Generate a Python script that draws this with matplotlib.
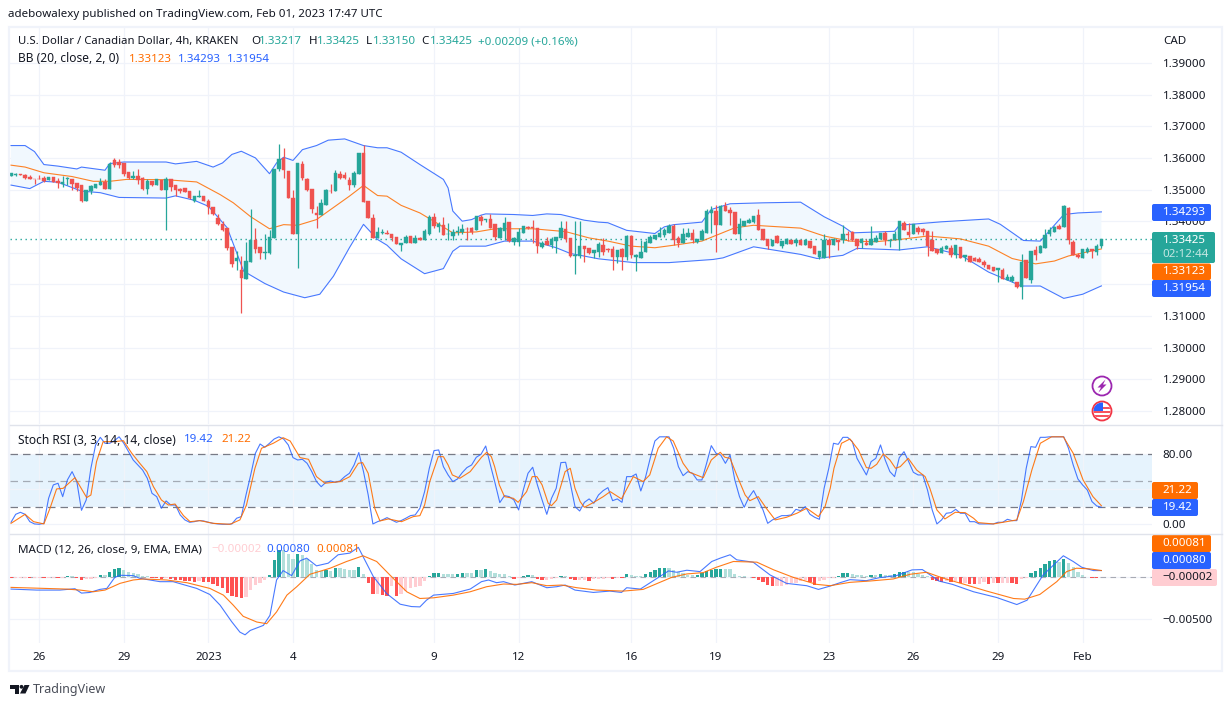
import numpy as np
import matplotlib
matplotlib.use("Agg")
import matplotlib.pyplot as plt
from matplotlib.patches import Rectangle, FancyBboxPatch, Circle, Polygon

plt.rcParams['font.family'] = ['Noto Sans', 'DejaVu Sans']

# candles, one per 4h bar
opens = [
    1.3542,1.3547,1.3548,1.3546,1.3541,1.3534,1.3534,1.3538,1.3529,1.3540,
    1.3526,1.3518,1.3533,1.3534,1.3522,1.3513,1.3465,1.3494,1.3506,1.3514,
    1.3525,1.3503,1.3592,1.3588,1.3584,1.3554,1.3537,1.3544,1.3536,1.3503,
    1.3526,1.3513,1.3530,1.3500,1.3534,1.3513,1.3503,1.3504,1.3494,1.3464,
    1.3476,1.3479,1.3465,1.3446,1.3410,1.3391,1.3379,1.3318,1.3274,1.3247,
    1.3217,1.3271,1.3339,1.3317,1.3298,1.3299,1.3346,1.3565,1.3599,1.3560,
    1.3474,1.3358,1.3582,1.3532,1.3503,1.3426,1.3418,1.3452,1.3496,1.3494,
    1.3549,1.3545,1.3529,1.3513,1.3549,1.3617,1.3463,1.3411,1.3346,1.3362,
    1.3364,1.3361,1.3351,1.3324,1.3330,1.3352,1.3330,1.3348,1.3342,1.3361,
    1.3412,1.3382,1.3387,1.3359,1.3353,1.3366,1.3365,1.3376,1.3379,1.3371,
    1.3413,1.3403,1.3407,1.3390,1.3347,1.3368,1.3397,1.3335,1.3335,1.3363,
    1.3380,1.3380,1.3379,1.3319,1.3337,1.3324,1.3336,1.3347,1.3374,1.3347,
    1.3290,1.3290,1.3321,1.3314,1.3298,1.3304,1.3326,1.3311,1.3313,1.3287,
    1.3311,1.3287,1.3353,1.3287,1.3282,1.3302,1.3330,1.3343,1.3351,1.3356,
    1.3363,1.3384,1.3347,1.3330,1.3351,1.3363,1.3335,1.3342,1.3363,1.3426,
    1.3432,1.3387,1.3447,1.3435,1.3428,1.3361,1.3384,1.3395,1.3397,1.3418,
    1.3374,1.3344,1.3323,1.3353,1.3323,1.3327,1.3339,1.3332,1.3342,1.3326,
    1.3336,1.3321,1.3287,1.3284,1.3339,1.3326,1.3340,1.3339,1.3358,1.3365,
    1.3344,1.3332,1.3332,1.3324,1.3335,1.3345,1.3363,1.3336,1.3339,1.3339,
    1.3395,1.3365,1.3358,1.3379,1.3374,1.3368,1.3339,1.3311,1.3298,1.3312,
    1.3314,1.3294,1.3318,1.3287,1.3291,1.3283,1.3279,1.3272,1.3261,1.3254,
    1.3245,1.3245,1.3215,1.3212,1.3207,1.3193,1.3276,1.3213,1.3309,1.3298,
    1.3316,1.3360,1.3366,1.3384,1.3381,1.3442,1.3335,1.3294,1.3285,1.3303,
    1.3311,1.3302,1.33217]
closes = [
    1.3551,1.3549,1.3546,1.3537,1.3533,1.3533,1.3533,1.3526,1.3541,1.3525,
    1.3521,1.3525,1.3535,1.3519,1.3506,1.3465,1.3497,1.3511,1.3519,1.3525,
    1.3503,1.3582,1.3578,1.3578,1.3550,1.3537,1.3544,1.3529,1.3503,1.3526,
    1.3513,1.3534,1.3500,1.3534,1.3509,1.3497,1.3494,1.3492,1.3474,1.3481,
    1.3478,1.3463,1.3444,1.3422,1.3391,1.3372,1.3314,1.3264,1.3285,1.3219,
    1.3273,1.3339,1.3311,1.3298,1.3304,1.3350,1.3565,1.3597,1.3561,1.3472,
    1.3358,1.3584,1.3538,1.3500,1.3437,1.3418,1.3458,1.3500,1.3494,1.3553,
    1.3535,1.3535,1.3513,1.3553,1.3617,1.3460,1.3409,1.3346,1.3366,1.3367,
    1.3358,1.3347,1.3327,1.3332,1.3351,1.3330,1.3347,1.3341,1.3368,1.3413,
    1.3384,1.3390,1.3355,1.3361,1.3366,1.3368,1.3376,1.3374,1.3365,1.3416,
    1.3400,1.3407,1.3377,1.3351,1.3378,1.3393,1.3337,1.3347,1.3365,1.3384,
    1.3378,1.3378,1.3321,1.3332,1.3326,1.3345,1.3351,1.3379,1.3345,1.3290,
    1.3294,1.3323,1.3311,1.3298,1.3309,1.3328,1.3303,1.3309,1.3287,1.3309,
    1.3287,1.3353,1.3293,1.3292,1.3302,1.3334,1.3351,1.3356,1.3363,1.3372,
    1.3384,1.3340,1.3330,1.3361,1.3363,1.3339,1.3344,1.3368,1.3432,1.3434,
    1.3387,1.3447,1.3431,1.3427,1.3361,1.3390,1.3400,1.3403,1.3416,1.3371,
    1.3340,1.3323,1.3342,1.3332,1.3336,1.3344,1.3327,1.3342,1.3325,1.3342,
    1.3315,1.3295,1.3307,1.3342,1.3326,1.3344,1.3335,1.3358,1.3356,1.3339,
    1.3323,1.3344,1.3324,1.3344,1.3347,1.3363,1.3339,1.3340,1.3358,1.3399,
    1.3372,1.3357,1.3390,1.3366,1.3366,1.3321,1.3307,1.3300,1.3314,1.3322,
    1.3292,1.3324,1.3285,1.3292,1.3271,1.3274,1.3271,1.3260,1.3248,1.3244,
    1.3251,1.3216,1.3224,1.3224,1.3193,1.3271,1.3219,1.3305,1.3293,1.3321,
    1.3355,1.3371,1.3381,1.3374,1.3447,1.3342,1.3292,1.3287,1.3311,1.3313,
    1.3305,1.3323,1.33425]
highs = [
    1.3551,1.3551,1.3548,1.3550,1.3546,1.3534,1.3547,1.3542,1.3541,1.3540,
    1.3535,1.3543,1.3541,1.3534,1.3522,1.3513,1.3499,1.3513,1.3519,1.3537,
    1.3532,1.3587,1.3601,1.3595,1.3584,1.3554,1.3559,1.3565,1.3539,1.3532,
    1.3526,1.3534,1.3530,1.3539,1.3534,1.3513,1.3506,1.3506,1.3494,1.3481,
    1.3500,1.3479,1.3471,1.3446,1.3424,1.3400,1.3379,1.3318,1.3305,1.3290,
    1.3334,1.3437,1.3379,1.3317,1.3358,1.3371,1.3565,1.3645,1.3630,1.3560,
    1.3500,1.3584,1.3591,1.3537,1.3503,1.3447,1.3469,1.3502,1.3516,1.3561,
    1.3559,1.3555,1.3540,1.3559,1.3617,1.3642,1.3463,1.3424,1.3383,1.3374,
    1.3371,1.3361,1.3351,1.3332,1.3355,1.3352,1.3355,1.3350,1.3374,1.3421,
    1.3426,1.3397,1.3414,1.3393,1.3374,1.3384,1.3390,1.3380,1.3381,1.3416,
    1.3421,1.3407,1.3424,1.3390,1.3381,1.3414,1.3397,1.3351,1.3379,1.3386,
    1.3384,1.3405,1.3379,1.3338,1.3350,1.3351,1.3351,1.3401,1.3400,1.3347,
    1.3402,1.3402,1.3321,1.3314,1.3309,1.3334,1.3347,1.3316,1.3323,1.3309,
    1.3315,1.3355,1.3356,1.3295,1.3340,1.3342,1.3355,1.3356,1.3381,1.3378,
    1.3392,1.3391,1.3353,1.3379,1.3379,1.3376,1.3344,1.3374,1.3440,1.3447,
    1.3450,1.3451,1.3461,1.3445,1.3428,1.3410,1.3400,1.3410,1.3416,1.3439,
    1.3374,1.3344,1.3342,1.3355,1.3336,1.3346,1.3339,1.3347,1.3342,1.3345,
    1.3336,1.3321,1.3307,1.3358,1.3347,1.3348,1.3340,1.3387,1.3369,1.3368,
    1.3344,1.3348,1.3344,1.3386,1.3356,1.3363,1.3368,1.3344,1.3368,1.3401,
    1.3402,1.3393,1.3390,1.3384,1.3377,1.3368,1.3368,1.3311,1.3321,1.3324,
    1.3324,1.3324,1.3318,1.3292,1.3291,1.3287,1.3286,1.3276,1.3261,1.3254,
    1.3253,1.3253,1.3234,1.3230,1.3207,1.3295,1.3276,1.3307,1.3321,1.3324,
    1.3374,1.3381,1.3384,1.3390,1.3451,1.3444,1.3340,1.3300,1.3311,1.3317,
    1.3311,1.3328,1.33425]
lows = [
    1.3542,1.3544,1.3546,1.3532,1.3533,1.3519,1.3532,1.3524,1.3529,1.3525,
    1.3506,1.3507,1.3513,1.3500,1.3496,1.3462,1.3465,1.3485,1.3506,1.3514,
    1.3503,1.3503,1.3571,1.3569,1.3542,1.3532,1.3534,1.3518,1.3500,1.3487,
    1.3511,1.3513,1.3498,1.3372,1.3496,1.3479,1.3490,1.3492,1.3471,1.3460,
    1.3476,1.3463,1.3422,1.3420,1.3389,1.3370,1.3308,1.3254,1.3245,1.3110,
    1.3216,1.3271,1.3298,1.3279,1.3279,1.3295,1.3346,1.3560,1.3535,1.3472,
    1.3358,1.3252,1.3530,1.3496,1.3426,1.3379,1.3418,1.3452,1.3490,1.3494,
    1.3532,1.3532,1.3500,1.3507,1.3549,1.3460,1.3409,1.3346,1.3346,1.3360,
    1.3358,1.3338,1.3327,1.3305,1.3330,1.3330,1.3330,1.3341,1.3342,1.3355,
    1.3377,1.3365,1.3355,1.3339,1.3340,1.3356,1.3360,1.3340,1.3359,1.3371,
    1.3387,1.3397,1.3377,1.3339,1.3347,1.3342,1.3334,1.3326,1.3321,1.3363,
    1.3374,1.3332,1.3298,1.3315,1.3326,1.3315,1.3298,1.3347,1.3335,1.3287,
    1.3232,1.3284,1.3271,1.3295,1.3284,1.3287,1.3292,1.3304,1.3247,1.3269,
    1.3247,1.3276,1.3284,1.3242,1.3282,1.3302,1.3330,1.3343,1.3351,1.3351,
    1.3363,1.3326,1.3318,1.3330,1.3351,1.3330,1.3330,1.3342,1.3363,1.3363,
    1.3302,1.3387,1.3431,1.3387,1.3361,1.3340,1.3384,1.3395,1.3393,1.3371,
    1.3340,1.3313,1.3323,1.3332,1.3315,1.3327,1.3327,1.3321,1.3325,1.3326,
    1.3315,1.3295,1.3281,1.3284,1.3282,1.3326,1.3309,1.3332,1.3336,1.3336,
    1.3313,1.3315,1.3324,1.3324,1.3335,1.3345,1.3324,1.3318,1.3339,1.3309,
    1.3372,1.3351,1.3358,1.3358,1.3356,1.3290,1.3307,1.3296,1.3298,1.3312,
    1.3287,1.3285,1.3285,1.3274,1.3271,1.3274,1.3271,1.3256,1.3248,1.3244,
    1.3209,1.3216,1.3215,1.3207,1.3190,1.3155,1.3219,1.3205,1.3276,1.3298,
    1.3316,1.3353,1.3366,1.3374,1.3381,1.3328,1.3292,1.3285,1.3285,1.3298,
    1.3282,1.3292,1.33150]

# bollinger bands, read at their bends
bb_upper_x = [0,3,5,7,10,14,15,20,21,24,33,35,39.5,43,45,47,49,52,55,56.5,58,60,62,65,67.5,71,75,78,80,83,
              87,92,93,94,96,98,100,101,107,111,114,117,122,125,127,131,137,139,141,147,149,153,160,168,
              173,177,179,188,189,198,208,210.5,215.4,219,224,227,232]
bb_upper = [1.3639,1.3639,1.3620,1.3579,1.3574,1.3565,1.3571,1.3561,1.3582,1.3587,1.3587,1.3581,1.3589,1.3571,
            1.3584,1.3611,1.3621,1.3600,1.3550,1.3584,1.3602,1.3592,1.3626,1.3639,1.3656,1.3660,1.3639,1.3632,
            1.3632,1.3618,1.3579,1.3532,1.3505,1.3432,1.3400,1.3405,1.3419,1.3423,1.3421,1.3418,1.3423,1.3421,
            1.3403,1.3397,1.3395,1.3371,1.3361,1.3382,1.3389,1.3397,1.3437,1.3455,1.3458,1.3460,1.3414,1.3384,
            1.3363,1.3368,1.3387,1.3398,1.3407,1.3390,1.3339,1.3337,1.3421,1.3426,1.34293]
bb_mid_x = [0,3,7,13,17.5,21,24.6,33,39.5,44.5,47.3,51,55,58,61,65,72,75,78,80,83,87,90.5,94,99,103,111,118,123,
            127,132,137,142,147,154,158,168,173,178.5,184,189,195,202,208,213,218,222,225,232]
bb_mid = [1.3577,1.3571,1.3553,1.3541,1.3526,1.3526,1.3532,1.3531,1.3524,1.3484,1.3458,1.3414,1.3376,1.3389,
          1.3387,1.3405,1.3479,1.3513,1.3481,1.3479,1.3450,1.3426,1.3395,1.3363,1.3366,1.3376,1.3376,1.3367,
          1.3347,1.3337,1.3321,1.3316,1.3326,1.3337,1.3379,1.3387,1.3378,1.3353,1.3337,1.3335,1.3342,1.3353,
          1.3344,1.3321,1.3282,1.3265,1.3274,1.3290,1.33123]
bb_lower_x = [0,4,7,10,15,19,23,33,35,39,42,46,49.5,54,58,62.5,65.7,68.6,72,75,78,80,83,88,92,94,95.5,101,105,111,
              116,119,125,132.5,140,149.4,151.5,158,168,171.5,177,180,189,195,202,208,215,219,224,228,232]
bb_lower = [1.3514,1.3503,1.3526,1.3523,1.3495,1.3490,1.3475,1.3473,1.3480,1.3466,1.3447,1.3379,1.3242,1.3203,
            1.3176,1.3158,1.3169,1.3226,1.3316,1.3390,1.3342,1.3324,1.3281,1.3234,1.3250,1.3305,1.3321,1.3321,
            1.3337,1.3337,1.3316,1.3298,1.3281,1.3269,1.3269,1.3279,1.3284,1.3319,1.3295,1.3282,1.3292,1.3314,
            1.3309,1.3319,1.3293,1.3239,1.3195,1.3195,1.3156,1.3169,1.31954]

# stoch rsi
stoch_k = [
    2.3,11.4,13.7,11.4,3,0.4,0,1.1,29.7,45,46.9,31.6,50.7,60.2,48.8,16,27.8,64,90.7,99.4,
    92.6,92.6,95.6,100,92.6,83,73.5,67.8,62,52.6,35.4,31.6,18.3,26.7,22,22,10.7,5,2.3,3,
    4.2,3.8,2.3,1.1,0.4,0,0,0.4,6.9,8.8,33.5,56.4,81.2,91.8,88,92.6,97.5,100,97.5,90.7,
    76.2,73.5,74.3,69.7,60.2,48.8,43,48,49.5,48,49.5,54.5,58.3,67.8,82,60.2,33.5,0.4,3,5,
    7.6,5,2.3,4.2,6.9,9.9,10.7,18.3,37.3,64,84.2,85,65.9,56.4,48.8,51.8,59,64.8,67.8,76.6,
    80,89.5,67.8,46.9,24.8,32.8,31.6,27.8,16.4,39.2,58.3,65.2,45,27.8,11.4,29.7,41.1,70.5,70.9,46.9,
    20.2,15.2,25.1,29,24,33.5,38.5,41.9,27,29,25.1,54.5,54.5,57.5,38.1,53.7,75.4,95.2,100,100,
    100,86.9,65.9,55.6,60.2,58.3,50.7,50.7,69.7,89.9,81.2,79.2,69.7,79.2,50.7,31.6,19.4,30.9,38.5,27.8,
    16.4,1.1,5,7.6,9.9,9.9,10.7,17.1,15.6,20.2,11.4,8,5.7,41.1,64,92.6,91.4,99.4,99.4,94.5,
    75.4,65.9,56.4,71.6,75.4,90.7,73.5,60.2,54.5,76.2,83,71.6,59.4,56.4,56.4,39.2,16.4,0.4,5,12.6,
    13.3,17.1,12.6,12.6,3,3,0.4,0.4,0.4,0.4,2.3,2.3,5.7,4.2,4.2,27.8,64,88.8,88,99.4,
    99.4,100,100,100,100,86.9,67.8,51.8,45,39.2,25.9,21,19.42]
stoch_d_x = [0,3,4.8,7,8.3,9.7,11.1,13.6,16.1,17,18.2,19.6,22.1,23.9,25.7,27.4,28.9,30.3,32,33.5,34.9,36.7,38.1,40.2,
             43,46.6,48.7,50.1,51.9,53.3,55.8,57.9,59.4,61.5,63.3,65,66.8,70,72.1,73.9,74.8,76,77.4,78.5,80.3,83.1,85.6,
             87,88,89.1,90.9,92,93,93.9,95.5,97.7,100.1,101.2,102.2,102.9,103.9,105,106.9,107.9,109.7,110.9,111.9,113,
             114.3,115,116.1,117.9,119,120,121.1,122,124,126,127.5,129.9,132.4,134.5,135.9,137.7,139.5,140.9,143,144.4,
             147.3,149,150.9,151.9,153,154.4,156.2,157.2,159,160.7,162.6,165,167.2,169.3,171.8,173.2,
             174.3,175.1,176.7,178.5,180.3,182,183,184.2,185.6,187,188.2,189.2,190.9,192.7,194.5,195.5,197,198.7,200.9,
             203,204.8,205.8,209,211.9,214,215.4,217.2,219,221.4,223.9,226,228.1,230.2,232]
stoch_d = [1.1,11.4,3,0.4,18.3,40.4,41.1,53.3,30.5,33.5,71.6,94.5,94.5,95.6,81.2,69.7,60.2,43,27.8,22,23.2,9.9,3,4.2,
           1.1,0,5,22,64,86.9,92.6,99,95.2,76.2,74.3,54.5,46.9,48.8,54.5,69.7,70.5,58.3,18.3,3.8,6.1,3,8.8,
           9.9,22,48.8,77.3,77.3,67.8,56.4,52.6,60.2,76.6,82.3,77.3,65.9,45,31.6,29.7,25.1,37.3,54.5,54.5,45,
           24,21.3,27.8,60.2,64,41.1,25.9,19.4,25.1,31.6,37.3,29,54.5,48.8,56.4,86.9,100,95.2,69.7,59.4,
           53.3,73.5,82.3,76.6,75.4,56.4,33.5,27,31.6,18.3,5,8,12.6,18.3,8.8,20.2,
           41.1,64,92.6,97.5,85,64.8,64,68.6,80.4,73.5,64,65.9,75.4,62,54.5,41.1,16.4,6.1,13.7,
           13.3,6.9,1.9,0.4,3,5,25.9,62,92.6,100,100,81.2,50.7,31.6,21.22]

# macd, all in units of 0.00001
macd_hist = [
    -4,-4,-4,-4,-12,-12,-4,-8,-8,-8,-12,-8,16,12,-4,-28,-24,-16,-4,28,24,68,96,108,92,
    68,56,40,12,12,-4,-8,-16,-12,-24,-32,-36,-40,-48,-52,-40,-52,-60,-80,-100,-132,-188,-220,-232,-248,
    -232,-148,-92,-72,-32,28,208,320,320,280,220,280,268,220,160,88,80,92,80,112,112,100,92,92,120,
    40,-68,-200,-200,-208,-220,-108,-220,-200,-168,-128,-112,
    -100,-48,16,48,52,40,40,36,44,52,52,52,88,88,100,76,52,44,40,12,-16,-8,16,28,28,
    -16,-28,-28,-20,-12,12,12,-24,-36,-32,-32,-40,-24,-20,-16,-8,-16,-4,-8,40,28,20,16,40,60,
    88,108,112,112,84,60,48,28,24,28,48,72,92,96,100,100,100,40,16,12,8,-4,-28,-60,-92,
    -100,-100,-100,-92,-72,-68,-48,-32,-60,-88,-48,-28,-12,-8,16,
    48,52,40,32,28,16,28,28,40,32,24,36,64,68,68,68,40,28,16,-28,-48,-60,-48,-60,-40,
    -72,-68,-76,-80,-80,-60,-80,-64,-68,-68,-64,-72,-80,-20,-8,48,80,108,160,188,200,180,220,172,120,
    60,24,4,-8,-12,-2]
macd_x = [0,5.5,10.4,13.6,15,16.8,18.9,20.4,22.1,23.2,26,27.4,31.7,34.5,39.5,42.3,44.5,46.9,48.7,49.8,50.9,53.7,55.1,
          56.5,57.9,59.7,61.5,62.9,65,67.5,69.6,72.1,73.9,77.1,79.9,82.8,85.2,
          87,88.4,89.9,94.1,97.7,100.1,101.6,103.3,104.8,107.2,110.8,114,116.1,117.9,120,123.9,127.4,129.9,131,133.9,
          139.9,141.6,143.8,146.6,149.1,150.9,153,154.4,157.9,161.5,165,169.3,171.8,
          174.3,176.4,178.5,182,184.8,188.4,191.7,193.9,196.1,197.4,200.3,204.8,209.7,214,216.2,219.6,223.9,226,227.8,230.3,232]
macd_line = [-140,-152,-152,-136,-188,-180,-144,-132,0,24,20,-12,-52,-52,-132,-204,-332,-524,-652,-684,-632,-572,-452,
             -32,80,20,196,228,136,168,268,288,356,8,-192,-320,-348,
             -352,-272,-212,-192,-140,-52,-32,-64,-52,-92,-52,-124,-112,-92,-152,-180,-164,-180,-124,-140,
             76,60,84,68,188,228,268,208,180,28,-72,-100,-144,
             -104,-64,-28,-40,-4,20,88,92,8,-44,-84,-172,-240,-324,-272,28,256,188,120,80,80]
signal_x = [0,11.8,14.7,17.5,20,23.2,26,28.1,33.1,37.4,42.3,45.2,47.3,49.4,52.3,54.4,56.5,58.7,60.8,63.6,67.9,71.4,74.9,
            77.8,80.6,84.2,
            87,89.9,94.1,97.7,101.2,104.8,107.6,110.8,114,117.2,120.4,124.6,130.3,134.5,136.7,140.6,143.8,147.3,150.1,
            153.7,158.7,162.3,166.4,171.4,
            174.3,178.5,182.8,187.7,191.3,194.8,198.4,202.6,207.6,213.3,215.7,218.9,222.5,224.6,226.7,229.5,232]
signal_line = [-120,-140,-152,-172,-152,-72,-32,-20,-32,-64,-132,-212,-332,-464,-532,-552,-412,-212,-112,36,108,188,256,
               188,28,-172,
               -252,-244,-212,-172,-112,-80,-84,-64,-100,-92,-124,-152,-164,-144,-92,0,40,56,120,
               188,180,88,0,-84,
               -100,-60,-44,-20,36,60,-12,-80,-164,-252,-260,-204,-52,68,108,100,81]

tick_bars = [6, 24, 42, 60, 90, 108, 132, 150, 174, 192, 210, 228]
tick_labels = ['26', '29', '2023', '4', '9', '12', '16', '19', '23', '26', '29', 'Feb']
price_ticks = [1.28, 1.29, 1.30, 1.31, 1.32, 1.33, 1.34, 1.35, 1.36, 1.37, 1.38, 1.39]
price_labels = ['1.28000', '1.29000', '1.30000', '1.31000', '', '', '1.34000', '1.35000', '1.36000', '1.37000',
                '1.38000', '1.39000']

assert len(opens) == len(closes) == len(highs) == len(lows) == len(stoch_k) == len(macd_hist) == 233

BLUE = '#2962ff'
ORANGE = '#ff6d00'
TEAL = '#26a69a'
RED = '#ef5350'
TEXT = '#131722'
GRID = '#f0f3fa'
BORDER = '#e0e3eb'
W, H = 1232, 707
LEFT, RIGHT = 10, 1152


def pane(top, bottom):
    a = fig.add_axes([LEFT / W, 1 - bottom / H, (RIGHT - LEFT) / W, (bottom - top) / H])
    a.set_xlim((LEFT - 11) / 4.7, (RIGHT - 11) / 4.7)
    for s in a.spines.values():
        s.set_visible(False)
    a.yaxis.tick_right()
    a.tick_params(length=0, labelsize=8.35, labelcolor=TEXT, pad=7.6)
    a.set_xticks(tick_bars)
    a.set_xticklabels([])
    a.grid(True, color=GRID, lw=0.9)
    a.set_axisbelow(True)
    return a


fig = plt.figure(figsize=(W / 100, H / 100), dpi=100)

# main pane
ax = pane(27, 424)
ax.set_ylim(1.27589, 1.40137)
ax.set_yticks(price_ticks)
ax.set_yticklabels(price_labels)
ax.fill(np.r_[bb_upper_x, bb_lower_x[::-1]], np.r_[bb_upper, bb_lower[::-1]], color='#f1f8fe', lw=0, zorder=1)
ax.axhline(closes[-1], color=TEAL, lw=1, ls=(0, (1, 2.6)), zorder=2)
ax.plot(bb_upper_x, bb_upper, color=BLUE, lw=0.8, alpha=0.85, zorder=2)
ax.plot(bb_lower_x, bb_lower, color=BLUE, lw=0.8, alpha=0.85, zorder=2)
ax.plot(bb_mid_x, bb_mid, color=ORANGE, lw=0.8, alpha=0.85, zorder=2)
bars = np.arange(len(opens))
o, c = np.array(opens), np.array(closes)
cols = [TEAL if b >= a else RED for a, b in zip(opens, closes)]
ax.vlines(bars, lows, highs, colors=cols, lw=0.9, zorder=3)
ax.bar(bars, np.abs(c - o), bottom=np.minimum(o, c), width=0.74, color=cols, linewidth=0.3, edgecolor=cols, zorder=3)

# stoch rsi pane
ax2 = pane(425, 534)
ax2.set_ylim(-11.1, 113.5)
ax2.set_yticks([0, 40, 80])
ax2.set_yticklabels(['0.00', '', '80.00'])
ax2.axhspan(20, 80, color='#2196f3', alpha=0.11, lw=0, zorder=0.5)
ax2.axhline(80, color='#787b86', lw=0.9, ls=(0, (6, 4)), zorder=1)
ax2.axhline(50, color='#787b86', lw=0.9, ls=(0, (6, 4)), alpha=0.6, zorder=1)
ax2.axhline(20, color='#787b86', lw=0.9, ls=(0, (6, 4)), zorder=1)
ax2.plot(bars, stoch_k, color=BLUE, lw=0.8, alpha=0.85, zorder=2)
ax2.plot(stoch_d_x, stoch_d, color=ORANGE, lw=0.8, alpha=0.9, zorder=2)

# macd pane
ax3 = pane(534, 643.3)
ax3.set_ylim(-0.00785, 0.00515)
ax3.set_yticks([-0.005, 0])
ax3.set_yticklabels(['\u22120.00500', ''])
ax3.set_xticklabels(tick_labels)
ax3.tick_params(axis='x', pad=6.4)
for t in ax3.get_xticklabels():
    if t.get_text() == '2023':
        t.set_fontweight('bold')
ax3.axhline(0, color='#787b86', lw=0.8, ls=(0, (5, 4)), alpha=0.6, zorder=1)
hist = np.array(macd_hist) * 1e-5
hcols = []
for i, v in enumerate(hist):
    prev = hist[i - 1] if i else 0
    if v >= 0:
        hcols.append('#26a69a' if v > prev else '#b2dfdb')
    else:
        hcols.append('#ff5252' if v < prev else '#ffcdd2')
ax3.bar(bars, hist, width=0.72, color=hcols, lw=0, zorder=2)
ax3.plot(macd_x, np.array(macd_line) * 1e-5, color=BLUE, lw=0.8, alpha=0.85, zorder=3)
ax3.plot(signal_x, np.array(signal_line) * 1e-5, color=ORANGE, lw=0.8, alpha=0.9, zorder=3)

# everything in screen pixels goes on one overlay
top = fig.add_axes([0, 0, 1, 1], zorder=10)
top.set_xlim(0, W)
top.set_ylim(H, 0)
top.axis('off')
top.patch.set_alpha(0)

top.add_patch(Rectangle((9, 27), 1213, 644, fill=False, ec=GRID, lw=1.6))
top.plot([10, 1222], [424.5, 424.5], color=BORDER, lw=1)
top.plot([10, 1222], [534, 534], color=BORDER, lw=1)


def txt(x, y, s, color=TEXT, size=8.35, **kw):
    top.text(x, y, s, color=color, fontsize=size, va='center', ha=kw.pop('ha', 'left'), **kw)


txt(8, 14.5, 'adebowalexy published on TradingView.com, Feb 01, 2023 17:47 UTC', size=8.3)
txt(18, 41.5, 'U.S. Dollar / Canadian Dollar, 4h, KRAKEN', size=8.15)
for x, s in [(251, 'O'), (308.5, 'H'), (366, 'L'), (421, 'C')]:
    txt(x, 41.5, s)
for x, s in [(259, '1.33217'), (316.5, '1.33425'), (372.5, '1.33150'), (429.5, '1.33425'),
             (477.5, '+0.00209 (+0.16%)')]:
    txt(x, 41.5, s, color=TEAL)
txt(18, 59, 'BB (20, close, 2, 0)', size=8.6)
txt(128.5, 59, '1.33123', color=ORANGE)
txt(178, 59, '1.34293', color=BLUE)
txt(227, 59, '1.31954', color=BLUE)
txt(18, 440, 'Stoch RSI (3, 3, 14, 14, close)', size=8.6)
txt(184, 440, '19.42', color=BLUE)
txt(221, 440, '21.22', color=ORANGE)
txt(18, 550, 'MACD (12, 26, close, 9, EMA, EMA)')
txt(211, 550, '\u22120.00002', color='#ffcdd2')
txt(266, 550, '0.00080', color=BLUE)
txt(316, 550, '0.00081', color=ORANGE)
txt(1163, 41, 'CAD')


def tag(y0, y1, x1, s, color, tc='white'):
    top.add_patch(FancyBboxPatch((1152, y0), x1 - 1152, y1 - y0, boxstyle='round,pad=0,rounding_size=2',
                                 fc=color, ec='none'))
    txt(1162.5, (y0 + y1) / 2 - 0.3, s, color=tc, fontweight='medium')


tag(204, 221, 1211, '1.34293', BLUE)
top.add_patch(FancyBboxPatch((1152, 232), 63, 31, boxstyle='round,pad=0,rounding_size=2', fc=TEAL, ec='none'))
txt(1162.5, 240.5, '1.33425', color='white')
txt(1162.5, 254.5, '02:12:44', color='#c4e6e2')
tag(263.5, 280, 1211, '1.33123', ORANGE)
tag(280, 297, 1211, '1.31954', BLUE)
tag(482, 499, 1198, '21.22', ORANGE)
tag(499, 516, 1198, '19.42', BLUE)
tag(535, 552, 1211, '0.00081', ORANGE)
tag(552, 569, 1211, '0.00080', BLUE)
tag(569, 586, 1217, '\u22120.00002', '#ffcdd2', tc=TEXT)

# event icons
top.add_patch(Circle((1102, 386), 9.5, fc='white', ec='#9c27b0', lw=1.3))
top.add_patch(Polygon([(1105.5, 379.5), (1097.5, 387.5), (1101, 387.5), (1098.5, 392.5), (1106.5, 384.5), (1103, 384.5)],
                      fc='#9c27b0', ec='none'))
flag = Circle((1102, 411), 9.5, fc='white', ec='#f23645', lw=1.3)
top.add_patch(flag)
for y in [407, 411, 415]:
    r = Rectangle((1092, y), 20, 2, fc='#f7525f', ec='none')
    top.add_patch(r)
    r.set_clip_path(Circle((1102, 411), 8.5, transform=top.transData))
r = Rectangle((1093, 402), 10, 9, fc='#2962ff', ec='none')
top.add_patch(r)
r.set_clip_path(Circle((1102, 411), 8.5, transform=top.transData))

# logo
top.add_patch(Polygon([(10, 685), (19, 685), (19, 693.5), (14.5, 693.5), (14.5, 689), (10, 689)], fc=TEXT, ec='none'))
top.add_patch(Circle((21.5, 686.8), 1.9, fc=TEXT, ec='none'))
top.add_patch(Polygon([(24.5, 685), (29.5, 685), (25.5, 693.5), (20, 693.5)], fc=TEXT, ec='none'))
txt(33, 689.5, 'TradingView', color='#4a4e59', size=9)

fig.savefig('out.png', dpi=100)
